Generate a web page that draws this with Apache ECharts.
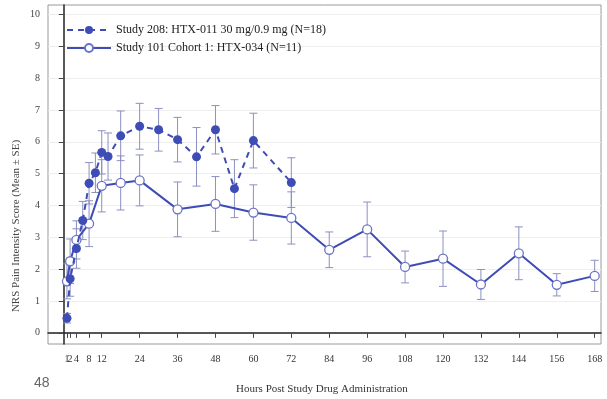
<!DOCTYPE html>
<html><head><meta charset="utf-8">
<script src="https://cdn.jsdelivr.net/npm/echarts@6/dist/echarts.min.js"></script>
<style>html,body{margin:0;padding:0;background:#fff}#c{width:607px;height:399px}</style>
</head><body><div id="c"></div>
<script>
// Study 208: HTX-011 30 mg/0.9 mg (N=18)
const hours208 = [1, 2, 4, 6, 8, 10, 12, 14, 18, 24, 30, 36, 42, 48, 54, 60, 72];
const mean208  = [0.46, 1.70, 2.65, 3.53, 4.70, 5.03, 5.67, 5.54, 6.19, 6.49, 6.38, 6.07, 5.53, 6.38, 4.53, 6.04, 4.72];
const se208    = [0.15, 0.55, 0.62, 0.60, 0.65, 0.62, 0.68, 0.74, 0.78, 0.72, 0.67, 0.70, 0.92, 0.76, 0.91, 0.86, 0.78];
// Study 101 Cohort 1: HTX-034 (N=11)
const hours101 = [1, 2, 4, 8, 12, 18, 24, 36, 48, 60, 72, 84, 96, 108, 120, 132, 144, 156, 168];
const mean101  = [1.62, 2.25, 2.92, 3.43, 4.62, 4.71, 4.79, 3.88, 4.05, 3.78, 3.61, 2.61, 3.25, 2.07, 2.33, 1.52, 2.50, 1.51, 1.79];
const se101    = [0.55, 0.70, 0.60, 0.72, 0.82, 0.85, 0.80, 0.86, 0.86, 0.87, 0.82, 0.56, 0.86, 0.50, 0.87, 0.47, 0.83, 0.35, 0.49];
const xTicks = [1, 2, 4, 8, 12, 24, 36, 48, 60, 72, 84, 96, 108, 120, 132, 144, 156, 168];
const xTicksA = [1, 4, 8, 12, 24, 36, 48, 60, 72, 84, 96, 108, 120, 132, 144, 156, 168]; // labels on main axis
const xTicksB = [2]; // label drawn by overlay axis (too close to "1" for overlap check)
const yTicks = [0, 1, 2, 3, 4, 5, 6, 7, 8, 9, 10];
const name208 = 'Study 208: HTX-011 30 mg/0.9 mg (N=18)';
const name101 = 'Study 101 Cohort 1: HTX-034 (N=11)';
const xTitle = 'Hours Post Study Drug Administration';
const yTitle = 'NRS Pain Intensity Score (Mean \u00b1 SE)';

const BLUE = '#3e4cb6';
const ERR = '#8c90c0';
const SERIF = '"Liberation Serif","DejaVu Serif",serif';

function errData(h, m, s) { return h.map((x, i) => [x, m[i] - s[i], m[i] + s[i]]); }
function errRender(params, api) {
  const x = api.value(0);
  const lo = api.coord([x, api.value(1)]);
  const hi = api.coord([x, api.value(2)]);
  const w = 4;
  const st = { stroke: ERR, lineWidth: 1 };
  return { type: 'group', children: [
    { type: 'line', shape: { x1: lo[0], y1: lo[1], x2: hi[0], y2: hi[1] }, style: st },
    { type: 'line', shape: { x1: lo[0] - w, y1: lo[1], x2: lo[0] + w, y2: lo[1] }, style: st },
    { type: 'line', shape: { x1: hi[0] - w, y1: hi[1], x2: hi[0] + w, y2: hi[1] }, style: st }
  ]};
}

const labelStyle = { hideOverlap: false, showMinLabel: true, fontFamily: SERIF, fontSize: 10, color: '#333', margin: 10 };
const chart = echarts.init(document.getElementById('c'), null, { renderer: 'canvas' });
chart.setOption({
  animation: false,
  backgroundColor: '#fff',
  grid: { left: 48, right: 6, top: 5, bottom: 55, show: true, borderColor: '#9a9a9a', borderWidth: 1 },
  xAxis: [{
    type: 'value', min: -5, max: 170,
    axisLine: { show: true, lineStyle: { color: '#222', width: 1.5 } },
    axisTick: { show: true, length: 5, customValues: xTicks, lineStyle: { color: '#444' } },
    axisLabel: Object.assign({ customValues: xTicksA }, labelStyle),
    splitLine: { show: false }
  }, {
    type: 'value', min: -5, max: 170, position: 'bottom', offset: 0,
    axisLine: { show: false }, axisTick: { show: false },
    axisLabel: Object.assign({ customValues: xTicksB }, labelStyle),
    splitLine: { show: false }
  }],
  yAxis: {
    type: 'value', min: -0.35, max: 10.3,
    axisLine: { show: true, lineStyle: { color: '#222', width: 1.5 } },
    axisTick: { show: true, length: 5, customValues: yTicks, lineStyle: { color: '#444' } },
    axisLabel: { customValues: yTicks, fontFamily: SERIF, fontSize: 10, color: '#444', margin: 8 },
    splitLine: { show: true, lineStyle: { color: '#eeeeee', width: 1 } }
  },
  legend: {
    data: [name208, name101], orient: 'vertical', left: 61, top: 19,
    itemWidth: 44, itemHeight: 10, itemGap: 6,
    textStyle: { fontFamily: SERIF, fontSize: 12, color: '#222' }
  },
  series: [
    { type: 'custom', name: 'err101', renderItem: errRender, data: errData(hours101, mean101, se101), z: 1, silent: true },
    { type: 'custom', name: 'err208', renderItem: errRender, data: errData(hours208, mean208, se208), z: 1, silent: true },
    {
      type: 'line', name: name101, data: hours101.map((h, i) => [h, mean101[i]]), z: 3,
      symbol: 'circle', symbolSize: 9, showAllSymbol: true,
      lineStyle: { color: BLUE, width: 2, type: 'solid' },
      itemStyle: { color: '#ffffff', borderColor: '#6b74c4', borderWidth: 1.3 }
    },
    {
      type: 'line', name: name208, data: hours208.map((h, i) => [h, mean208[i]]), z: 4,
      symbol: 'circle', symbolSize: 9, showAllSymbol: true,
      lineStyle: { color: BLUE, width: 2, type: [6, 5] },
      itemStyle: { color: BLUE, borderColor: BLUE, borderWidth: 0 }
    }
  ],
  graphic: [
    { type: 'text', left: 334 - 98, top: 384, style: { text: xTitle, fontFamily: SERIF, fontSize: 11, fill: '#333' } },
    { type: 'text', x: 16, y: 226, rotation: Math.PI / 2, style: { text: yTitle, fontFamily: SERIF, fontSize: 11, fill: '#444', align: 'center', verticalAlign: 'middle' } },
    { type: 'text', left: 34, top: 376, style: { text: '48', fontFamily: '"Liberation Sans",Arial,sans-serif', fontSize: 14, fill: '#666' } }
  ]
});
</script>
</body></html>
